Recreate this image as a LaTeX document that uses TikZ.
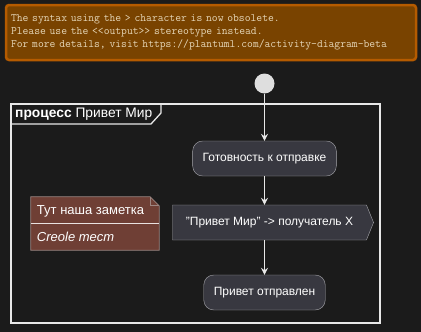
\documentclass[tikz,border=0pt]{standalone}
\usepackage{fontspec}
\setmainfont{Liberation Sans}
\usetikzlibrary{arrows.meta,positioning,shapes.symbols}
\definecolor{pumlBg}{HTML}{1B1B1B}
\definecolor{pumlNode}{HTML}{383840}
\definecolor{pumlEdge}{HTML}{A9A9AE}
\definecolor{pumlLine}{HTML}{E8E8E8}
\definecolor{pumlStart}{HTML}{DEDEDE}
\definecolor{warnFill}{HTML}{794300}
\definecolor{warnDraw}{HTML}{B55B00}
\definecolor{warnText}{HTML}{E6D7B9}
\definecolor{noteFill}{HTML}{6F3F35}
\definecolor{noteDraw}{HTML}{9C8682}

\begin{document}
\begin{tikzpicture}[x=1pt, y=-1pt,
          act/.style={draw=pumlEdge, fill=pumlNode, rounded corners=10pt, text=white,
            font=\fontsize{12}{14}\selectfont, minimum height=35pt, inner xsep=10pt},
          sig/.style={signal, signal to=east, signal pointer angle=136, draw=pumlEdge,
            fill=pumlNode, text=white, font=\fontsize{12}{14}\selectfont,
            minimum height=35pt, minimum width=201pt},
          notetxt/.style={text=white, font=\fontsize{13}{15}\selectfont, inner sep=0pt},
          arr/.style={-{Stealth[length=7pt, width=7pt, inset=2.5pt]}, pumlLine, line width=1pt}]
        \fill[pumlBg] (0,0) rectangle (421,332);
        % warning
        \node[draw=warnDraw, line width=2.5pt, fill=warnFill, rounded corners=3pt, text=warnText,
          font=\ttfamily\fontsize{11.3}{13}\selectfont, text width=400pt, align=left,
          minimum height=55pt, inner xsep=5pt] (warn) at (211,32.5)
          {The syntax using the > character is now obsolete.\\
           Please use the <{}<output>{}> stereotype instead.\\
           For more details, visit https://plantuml.com/activity-diagram-beta};
        % frame
        \draw[pumlLine, line width=1.3pt] (11,104) rectangle (380,323);
        \draw[pumlLine, line width=1.3pt] (11,124) -- (151,124) -- (161,113) -- (161,104);
        \node[anchor=west, text=white, font=\fontsize{13.8}{15}\selectfont, inner sep=0pt] (tab)
          at (15,114) {\textbf{процесс} Привет Мир};
        % flow
        \node[circle, fill=pumlStart, minimum size=20pt, inner sep=0pt] (start) at (264.5,83.5) {};
        \node[act] (ready) at (264.5,158.5) {Готовность к отправке};
        \node[sig] (send) at (269.5,222.5) {"Привет Мир" -> получатель X};
        \node[act] (sent) at (264.5,292.5) {Привет отправлен};
        \draw[arr] (start) -- (ready);
        \draw[arr] (ready) -- (ready |- send.north);
        \draw[arr] (ready |- send.south) -- (sent);
        % note
        \node[minimum width=128pt, minimum height=53pt, inner sep=0pt] (note) at (95,223.5) {};
        \filldraw[fill=noteFill, draw=noteDraw, line width=0.8pt]
          (note.north west) -- ([xshift=-9pt]note.north east) -- ([yshift=-9pt]note.north east)
          -- (note.south east) -- (note.south west) -- cycle;
        \draw[noteDraw, line width=0.8pt] ([xshift=-9pt]note.north east) -- ([xshift=-9pt,yshift=-9pt]note.north east)
          -- ([yshift=-9pt]note.north east);
        \draw[white!85!noteFill, line width=0.8pt] (note.west) -- (note.east);
        \node[notetxt, anchor=west] (line1) at ([xshift=6pt]note.west |- 0,211) {Тут наша заметка};
        \node[notetxt, anchor=west] (line2) at ([xshift=6pt]note.west |- 0,237) {\itshape Creole тест};
      \end{tikzpicture}
\end{document}
